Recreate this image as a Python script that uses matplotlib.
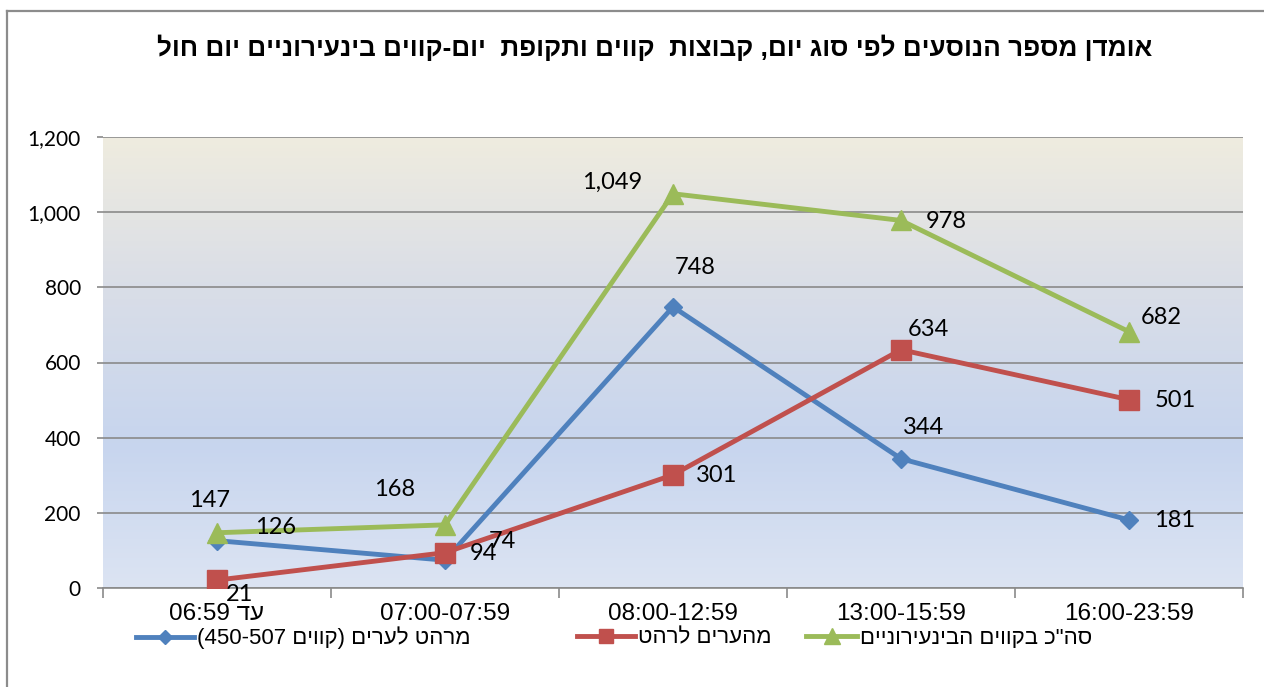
import re
import numpy as np
import matplotlib
matplotlib.use("Agg")
import matplotlib.pyplot as plt
from matplotlib.colors import LinearSegmentedColormap
from matplotlib.lines import Line2D

# ---------------- data ----------------
categories = ["עד 06:59", "07:00-07:59", "08:00-12:59", "13:00-15:59", "16:00-23:59"]
series_names = ["מרהט לערים (קווים 450-507)", "מהערים לרהט", 'סה"כ בקווים הבינעירוניים']
from_rahat = [126, 74, 748, 344, 181]
to_rahat = [21, 94, 301, 634, 501]
total_intercity = [147, 168, 1049, 978, 682]
y_ticks = [0, 200, 400, 600, 800, 1000, 1200]
title = "אומדן מספר הנוסעים לפי סוג יום, קבוצות  קווים ותקופת  יום-קווים בינעירוניים יום חול"

# ---------------- styles ----------------
colors = ["#4F81BD", "#C0504D", "#9BBB59"]
markers = ["D", "s", "^"]
marker_sizes = [9, 14, 15]
legend_marker_sizes = [7, 10, 11]
# label offsets in pixels (dx, dy) for each series/point
label_offsets = [
    [(59, 13), (57, 19), (22, 39), (22, 31), (46, -1)],
    [(23, -14), (38, -1), (44, -1), (27, 20), (46, -1)],
    [(-7, 32), (-50, 35), (-61, 11), (45, -1), (32, 14)],
]
HEB = ["Liberation Sans", "DejaVu Sans"]
NUM = ["Lato", "DejaVu Sans"]


def visual(s):
    """Convert logical RTL text to visual (left-to-right) order."""
    parts = re.split(r"(\d[\d:\-.,]*\d|\d)", s)
    mirror = str.maketrans("()[]", ")(][")
    out = []
    for i, p in enumerate(parts):
        if i % 2 == 1:
            out.append(p)
        else:
            out.append(p[::-1].translate(mirror))
    return "".join(reversed(out))


W, H = 1264, 687
fig = plt.figure(figsize=(W / 100, H / 100), dpi=100)
fig.patch.set_facecolor("white")

ax = fig.add_axes([103 / W, 1 - 588 / H, (1243 - 103) / W, (588 - 137) / H])
x = np.arange(len(categories))
ax.set_xlim(-0.5, len(categories) - 0.5)
ax.set_ylim(0, 1200)

# gradient background
cmap = LinearSegmentedColormap.from_list(
    "bg",
    [(0.0, "#DCE4F3"), (0.32, "#C7D5EE"), (0.68, "#DADEE7"), (1.0, "#EFECDF")],
)
grad = np.linspace(0, 1, 256).reshape(-1, 1)
ax.imshow(grad, cmap=cmap, aspect="auto", origin="lower",
          extent=[-0.5, len(categories) - 0.5, 0, 1200], zorder=0)

# grid
ax.set_yticks(y_ticks)
ax.yaxis.grid(True, color="#8A8A8A", linewidth=1.2, zorder=1)
ax.set_axisbelow(True)
for s in ["top", "right", "left"]:
    ax.spines[s].set_visible(False)
ax.spines["bottom"].set_color("#8A8A8A")
ax.spines["bottom"].set_linewidth(1.2)
ax.spines["bottom"].set_zorder(2)

ax.set_yticklabels([f"{v:,}" for v in y_ticks], family=NUM, fontsize=15)
ax.tick_params(axis="y", length=4, color="#8A8A8A", width=1.2, pad=12)

ax.set_xticks(np.arange(-0.5, len(categories), 1.0))
ax.set_xticklabels([])
ax.tick_params(axis="x", which="major", length=7, color="#8A8A8A", width=1.2)
ax.set_xticks(x, minor=True)
ax.set_xticklabels([visual(c) for c in categories], minor=True,
                   family=HEB, fontsize=17.5)
ax.tick_params(axis="x", which="minor", length=0, pad=11)

series = [from_rahat, to_rahat, total_intercity]
for i, vals in enumerate(series):
    ax.plot(x, vals, color=colors[i], lw=3.5, marker=markers[i],
            ms=marker_sizes[i], mfc=colors[i], mec=colors[i], zorder=3 + i)

for i, vals in enumerate(series):
    for j, v in enumerate(vals):
        dx, dy = label_offsets[i][j]
        ax.annotate(f"{v:,}", (x[j], v), xytext=(dx, dy),
                    textcoords="offset pixels", ha="center", va="center",
                    family=NUM, fontsize=17, color="black", zorder=10)

# legend (three entries placed along the bottom)
legend_x = [136, 577, 806]
handle_lengths = [2.6, 2.6, 2.3]
for i in range(3):
    h = Line2D([], [], color=colors[i], lw=3.5, marker=markers[i],
               ms=legend_marker_sizes[i], mfc=colors[i], mec=colors[i])
    fig.legend([h], [visual(series_names[i])], loc="center left",
               bbox_to_anchor=(legend_x[i] / W, 1 - 638 / H),
               frameon=False, borderpad=0, borderaxespad=0,
               handlelength=handle_lengths[i], handletextpad=0.15,
               prop={"family": HEB, "size": 16})

# title
fig.text(655 / W, 1 - 48 / H, visual(title), ha="center", va="center",
         family=HEB, fontweight="bold", fontsize=18.8)

# outer chart border (left and top visible)
fig.add_artist(Line2D([7 / W, 7 / W], [0, 1 - 11 / H], transform=fig.transFigure,
                      color="#8C8C8C", lw=1.6))
fig.add_artist(Line2D([7 / W, 1], [1 - 11 / H, 1 - 11 / H], transform=fig.transFigure,
                      color="#8C8C8C", lw=1.6))

fig.savefig("out.png", dpi=100)
